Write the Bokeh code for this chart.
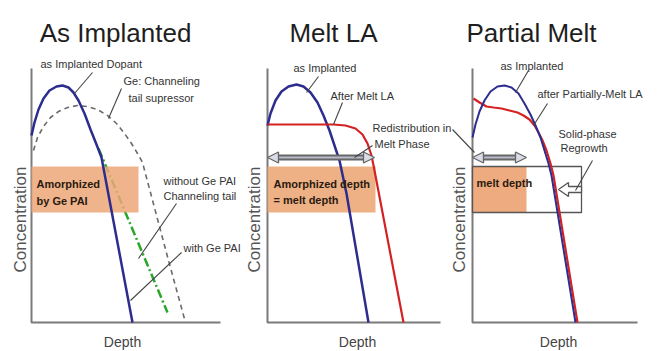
import math
from bokeh.plotting import figure
from bokeh.models import Range1d, Arrow, NormalHead
from bokeh.core.properties import value
from bokeh.embed import file_html
from bokeh.resources import INLINE

# ---------------- data (local schematic units: depth, concentration) ----------------
titles = ["As Implanted", "Melt LA", "Partial Melt"]
x_label = "Depth"
y_label = "Concentration"

# Panel 1 : as implanted
p1_dopant_depth = [0, 3, 7, 12, 18, 25, 31, 37, 42, 47, 53, 59, 65, 70, 101]
p1_dopant_conc = [187, 200, 213, 224, 232, 236, 237, 235, 230, 222, 209, 193, 178, 165, 0]
p1_ge_depth = [2, 6, 12, 19, 27, 36, 46, 56, 66, 76, 85, 93, 100, 106, 111, 137, 154]
p1_ge_conc = [172, 185, 196, 205, 211, 215, 217, 216, 213, 207, 199, 189, 179, 169, 160, 62, 0]
p1_tail_depth = [67, 136]
p1_tail_conc = [174, 10]
p1_amorph_depth = [0, 107]
p1_amorph_conc = [110, 156]

# Panel 2 : melt LA
p2_implant_depth = [0, 3, 8, 14, 21, 29, 36, 43, 50, 56, 62, 67, 72, 79, 101]
p2_implant_conc = [197, 209, 222, 231, 236, 238, 236, 230, 220, 207, 192, 177, 162, 129, 0]
p2_melt_depth = [0, 66, 78, 88, 95, 100, 104, 107, 136]
p2_melt_conc = [198, 198, 197, 194, 188, 179, 167, 152, 0]
p2_redistrib_depth = [0, 107]
p2_redistrib_conc = 165
p2_amorph_depth = [0, 108]
p2_amorph_conc = [110, 156]

# Panel 3 : partial melt
p3_implant_depth = [0, 3, 7, 12, 18, 25, 32, 39, 46, 52, 58, 63, 68, 72, 76, 79, 103]
p3_implant_conc = [185, 198, 211, 222, 231, 236, 237, 235, 229, 219, 208, 197, 185, 172, 159, 147, 0]
p3_partial_depth = [0, 6, 13, 20, 28, 36, 44, 50, 56, 61, 65, 69, 73, 77, 80, 104]
p3_partial_conc = [224, 220, 216, 215, 214, 212, 210, 207, 203, 197, 190, 182, 172, 159, 147, 0]
p3_melt_depth = [0, 54]
p3_melt_conc = 165
p3_amorph_depth = [0, 109]
p3_amorph_conc = [110, 156]

# ---------------- layout (screen geometry of each panel) ----------------
W, H = 657, 351
origins = [(31, 322), (267, 322), (472, 322)]
axis_len = [(189, 254), (173, 254), (165, 254)]

BLUE = "#2d2d8f"
RED = "#d42222"
GREEN = "#2aa62a"
ORANGE = "#eca778"
AXIS = "#7a7a7a"
TXT = "#333333"
FONT = value("Liberation Sans")

p = figure(width=W, height=H, x_range=Range1d(0, W), y_range=Range1d(H, 0),
           toolbar_location=None, output_backend="svg", min_border=0,
           x_axis_location=None, y_axis_location=None)
p.grid.visible = False
p.outline_line_color = None
p.background_fill_color = "white"


def X(i, d):
    return [origins[i][0] + v for v in d] if isinstance(d, list) else origins[i][0] + d


def Y(i, c):
    return [origins[i][1] - v for v in c] if isinstance(c, list) else origins[i][1] - c


def label(x, y, t, size="11px", bold=False, color=TXT, align="left", angle=0, baseline="middle"):
    p.text(x=[x], y=[y], text=[t], text_font=FONT, text_font_size=size,
           text_font_style="bold" if bold else "normal", text_color=color,
           text_align=align, text_baseline=baseline, angle=angle)


# ---- axes, titles, axis labels ----
title_x = [115, 333, 531]
depth_x = [122, 357, 558]
conc_x = [20, 254, 459]
for i in range(3):
    ox, oy = origins[i]
    aw, ah = axis_len[i]
    p.line(x=[X(i, 0), X(i, 0), X(i, aw)], y=[Y(i, ah), Y(i, 0), Y(i, 0)],
           line_color=AXIS, line_width=2)
    label(title_x[i], 32, titles[i], size="26px", color="#1e1e1e", align="center", baseline="alphabetic")
    label(depth_x[i], 341, x_label, size="14px", color="#444", align="center")
    label(conc_x[i], 219, y_label, size="17px", color="#555", align="center", angle=math.pi / 2)

# ---------------- panel 1 ----------------
p.line(x=X(0, p1_tail_depth), y=Y(0, p1_tail_conc), line_color=GREEN, line_width=2.5,
       line_dash="9 3 2 3")
p.quad(left=X(0, p1_amorph_depth[0]), right=X(0, p1_amorph_depth[1]),
       top=Y(0, p1_amorph_conc[1]), bottom=Y(0, p1_amorph_conc[0]),
       fill_color=ORANGE, fill_alpha=0.85, line_color=None)
p.line(x=X(0, p1_ge_depth), y=Y(0, p1_ge_conc), line_color="#6a6a6a", line_width=1.6,
       line_dash="5 4")
p.line(x=X(0, p1_dopant_depth), y=Y(0, p1_dopant_conc), line_color=BLUE, line_width=2.5)

label(36, 183, "Amorphized", bold=True, color="#2a1a10")
label(36, 200, "by Ge PAI", bold=True, color="#2a1a10")
label(40, 63, "as Implanted Dopant")
label(123, 80, "Ge: Channeling")
label(128, 97, "tail supressor")
label(163, 180, "without Ge PAI")
label(163, 195, "Channeling tail")
label(183, 247, "with Ge PAI")

# ---------------- panel 2 ----------------
p.quad(left=X(1, p2_amorph_depth[0]), right=X(1, p2_amorph_depth[1]),
       top=Y(1, p2_amorph_conc[1]), bottom=Y(1, p2_amorph_conc[0]),
       fill_color=ORANGE, fill_alpha=0.9, line_color=None)
p.line(x=X(1, p2_implant_depth), y=Y(1, p2_implant_conc), line_color=BLUE, line_width=2.5)
p.line(x=X(1, p2_melt_depth), y=Y(1, p2_melt_conc), line_color=RED, line_width=2.2)

label(273, 183, "Amorphized depth", bold=True, color="#2a1a10")
label(273, 199, "= melt depth", bold=True, color="#2a1a10")
label(293, 67, "as Implanted")
label(330, 95, "After Melt LA")
label(372, 127, "Redistribution in")
label(374, 143, "Melt Phase")

# ---------------- panel 3 ----------------
p.quad(left=X(2, p3_melt_depth[0]), right=X(2, p3_melt_depth[1]),
       top=Y(2, p3_amorph_conc[1]), bottom=Y(2, p3_amorph_conc[0]),
       fill_color=ORANGE, fill_alpha=0.95, line_color=None)
p.quad(left=X(2, p3_amorph_depth[0]), right=X(2, p3_amorph_depth[1]),
       top=Y(2, p3_amorph_conc[1]), bottom=Y(2, p3_amorph_conc[0]),
       fill_color=None, line_color="#555", line_width=1.3)
p.line(x=X(2, [d + 1 for d in p3_partial_depth]), y=Y(2, p3_partial_conc), line_color=RED, line_width=2.2)
p.line(x=X(2, p3_implant_depth), y=Y(2, p3_implant_conc), line_color=BLUE, line_width=2)

# hollow block arrow (solid-phase regrowth) at right end of box
bx = X(2, p3_amorph_depth[1])
by = Y(2, (p3_amorph_conc[0] + p3_amorph_conc[1]) / 2)
p.patch(x=[bx - 23, bx - 13, bx - 13, bx, bx, bx - 13, bx - 13],
        y=[by, by - 7, by - 3, by - 3, by + 3, by + 3, by + 7],
        fill_color="white", line_color="#555", line_width=1.3)

label(476, 182, "melt depth", bold=True, color="#2a1a10")
label(500, 65, "as Implanted")
label(537, 93, "after Partially-Melt LA")
label(558, 133, "Solid-phase")
label(560, 147, "Regrowth")

# ---------------- double arrows (melt extent) ----------------
for i, dep, cc in [(1, p2_redistrib_depth, p2_redistrib_conc), (2, p3_melt_depth, p3_melt_conc)]:
    x0, x1 = X(i, dep[0]), X(i, dep[1])
    yy = Y(i, cc)
    p.line(x=[x0 + 6, x1 - 6], y=[yy, yy], line_color="#666", line_width=6)
    p.line(x=[x0 + 6, x1 - 6], y=[yy, yy], line_color="#b9bccb", line_width=2)
    for xa, xb in [(x0 + 8, x0), (x1 - 8, x1)]:
        p.add_layout(Arrow(x_start=xa, y_start=yy, x_end=xb, y_end=yy, line_width=0, line_alpha=0,
                           end=NormalHead(size=11, fill_color="#d9dbe6", line_color="#666", line_width=1.3)))

# ---------------- leader lines ----------------
lead_x0 = [92, 121, 176, 181, 318, 342, 372, 452, 528, 547, 592]
lead_y0 = [72, 88, 203, 252, 76, 102, 145, 129, 70, 103, 160]
lead_x1 = [74, 108, 138, 130, 306, 333, 354, 474, 515, 533, 575]
lead_y1 = [93, 118, 258, 300, 92, 124, 157, 152, 92, 125, 190]
p.segment(x0=lead_x0, y0=lead_y0, x1=lead_x1, y1=lead_y1, line_color="#444", line_width=1.1)

open("out.html", "w").write(file_html(p, INLINE))
